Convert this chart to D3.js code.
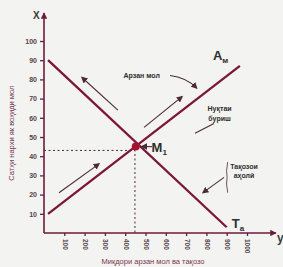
<!DOCTYPE html>
<html lang="tg">
<head>
<meta charset="UTF-8">
<title>Арзан мол</title>
<script src="https://cdn.jsdelivr.net/npm/d3@7.8.5/dist/d3.min.js"></script>
<style>
  body { margin: 0; background: #f3f3f1; }
  svg { display: block; font-family: "Liberation Sans", Arial, sans-serif; }
</style>
</head>
<body>
<div id="chart"></div>
<script>
// chart values
const xTicks = [100, 200, 300, 400, 500, 600, 700, 800, 900, 1000];
const yTicks = [10, 20, 30, 40, 50, 60, 70, 80, 90, 100];
const supply = [{q: 20, p: 10}, {q: 965, p: 87}];   // А_м
const demand = [{q: 20, p: 90}, {q: 900, p: 3}];    // Т_а
const equilibrium = {q: 452, p: 45};                 // M1
const eqDash = {q: 448, p: 43};
// small arrows along the curves (from -> to)
const moveArrows = [
  {from: [364, 64], to: [187, 81]},
  {from: [493, 55], to: [680, 71]},
  {from: [74, 21], to: [271, 36]}
];
const pointers = [
  {from: [887, 29], to: [783, 21]},
  {from: [532, 45], to: [482, 45]}
];

const W = 283, H = 267;
const x = d3.scaleLinear().domain([0, 1000]).range([44, 247]);
const y = d3.scaleLinear().domain([0, 100]).range([233, 41]);
const lineCol = "#7b1638", axisCol = "#6e1b3b", arrowCol = "#4a2a36";

const svg = d3.select("#chart").append("svg")
  .attr("width", W).attr("height", H);

const defs = svg.append("defs");
defs.append("marker").attr("id", "head")
  .attr("viewBox", "0 0 10 10").attr("refX", 8).attr("refY", 5)
  .attr("markerWidth", 6).attr("markerHeight", 6).attr("orient", "auto")
  .append("path").attr("d", "M0,0 L10,5 L0,10 z").attr("fill", arrowCol);
defs.append("marker").attr("id", "axhead")
  .attr("viewBox", "0 0 10 10").attr("refX", 9).attr("refY", 5)
  .attr("markerWidth", 4).attr("markerHeight", 4).attr("orient", "auto")
  .append("path").attr("d", "M0,0 L10,5 L0,10 z").attr("fill", axisCol);

// axes
const yAxis = svg.append("g").attr("transform", `translate(${x(0)},0)`)
  .call(d3.axisLeft(y).tickValues(yTicks).tickSize(4).tickPadding(3));
yAxis.select(".domain").remove();
yAxis.selectAll("line").attr("stroke", axisCol).attr("stroke-width", 1.3);
yAxis.selectAll("text").attr("fill", "#54464c").style("font-size", "7px").style("font-weight", "bold");

const xAxis = svg.append("g").attr("transform", `translate(0,${y(0)})`)
  .call(d3.axisBottom(x).tickValues(xTicks).tickFormat(d3.format("d")).tickSize(3));
xAxis.select(".domain").remove();
xAxis.selectAll("line").attr("stroke", axisCol).attr("stroke-width", 1.3);
xAxis.selectAll("text")
  .attr("fill", "#54464c").style("font-size", "6.5px").style("font-weight", "bold")
  .attr("text-anchor", "start").attr("dy", "0.32em")
  .attr("transform", "translate(0,3) rotate(90)").attr("x", 3).attr("y", 0);

svg.append("line").attr("x1", x(0)).attr("y1", y(0)).attr("x2", x(0)).attr("y2", 13)
  .attr("stroke", axisCol).attr("stroke-width", 1.6).attr("marker-end", "url(#axhead)");
svg.append("line").attr("x1", x(0)).attr("y1", y(0)).attr("x2", 276).attr("y2", y(0))
  .attr("stroke", axisCol).attr("stroke-width", 1.6).attr("marker-end", "url(#axhead)");

svg.append("text").attr("x", 33).attr("y", 19).text("X")
  .attr("fill", "#3c3c3c").style("font-size", "10px").style("font-weight", "bold");
svg.append("text").attr("x", 277).attr("y", 242).text("y")
  .attr("fill", "#3c3c3c").style("font-size", "12px").style("font-weight", "bold");

// axis titles
svg.append("text").attr("transform", `translate(14,${y(52)}) rotate(-90)`)
  .attr("text-anchor", "middle").attr("fill", "#7a3650")
  .style("font-size", "7.5px").text("Сатҳи нархи як воҳиди мол");
svg.append("text").attr("x", 153).attr("y", 264)
  .attr("text-anchor", "middle").attr("fill", "#7a3650")
  .style("font-size", "7.5px").text("Миқдори арзан мол ва тақозо");

// dashed guides
svg.append("path")
  .attr("d", `M${x(0)},${y(eqDash.p)} H${x(eqDash.q)} V${y(0)}`)
  .attr("fill", "none").attr("stroke", "#4a2a36").attr("stroke-width", 1)
  .attr("stroke-dasharray", "2,2.5");

// curves
const line = d3.line().x(d => x(d.q)).y(d => y(d.p));
[supply, demand].forEach(s => {
  svg.append("path").datum(s).attr("d", line)
    .attr("fill", "none").attr("stroke", lineCol).attr("stroke-width", 2.3);
});
svg.append("circle").attr("cx", x(equilibrium.q)).attr("cy", y(equilibrium.p))
  .attr("r", 4).attr("fill", "#a3122f");

// movement arrows and pointers
moveArrows.concat(pointers).forEach(a => {
  svg.append("line")
    .attr("x1", x(a.from[0])).attr("y1", y(a.from[1]))
    .attr("x2", x(a.to[0])).attr("y2", y(a.to[1]))
    .attr("stroke", arrowCol).attr("stroke-width", 1.1)
    .attr("marker-end", "url(#head)");
});
// curved pointer from "Арзан мол"
svg.append("path")
  .attr("d", `M${x(621)},${y(82)} Q${x(700)},${y(81)} ${x(752)},${y(75.5)}`)
  .attr("fill", "none").attr("stroke", arrowCol).attr("stroke-width", 1.1)
  .attr("marker-end", "url(#head)");
// pointer stroke for "Нуқтаи буриш"
svg.append("line")
  .attr("x1", x(744)).attr("y1", y(52)).attr("x2", x(837)).attr("y2", y(57))
  .attr("stroke", arrowCol).attr("stroke-width", 1.1);

// labels
const lbl = (tx, ty, t, size, anchor) => svg.append("text")
  .attr("x", tx).attr("y", ty).attr("text-anchor", anchor || "start")
  .attr("fill", "#2e2e2e").style("font-size", size + "px")
  .style("font-weight", "bold").text(t);

lbl(x(392), y(80.5), "Арзан мол", 7);
lbl(x(865), y(63.5), "Нуқтаи", 7, "middle");
lbl(x(865), y(58.5), "буриш", 7, "middle");
lbl(x(985), y(33.5), "Тақозои", 7, "middle");
lbl(x(985), y(28.5), "аҳолӣ", 7, "middle");

const sub = (tx, ty, main, s) => {
  const t = svg.append("text").attr("x", tx).attr("y", ty)
    .attr("fill", "#2e2e2e").style("font-weight", "bold");
  t.append("tspan").style("font-size", "13px").text(main);
  t.append("tspan").style("font-size", "8px").attr("dy", 3).text(s);
};
sub(x(832), y(90), "А", "м");
sub(x(530), y(42), "M", "1");
sub(x(925), y(2.5), "Т", "а");

// small bracket next to "Тақозои аҳолӣ"
svg.append("path")
  .attr("d", `M${x(905)},${y(37)} Q${x(895)},${y(32)} ${x(902)},${y(29)} Q${x(895)},${y(26)} ${x(905)},${y(21)}`)
  .attr("fill", "none").attr("stroke", arrowCol).attr("stroke-width", 0.8);
</script>
</body>
</html>
